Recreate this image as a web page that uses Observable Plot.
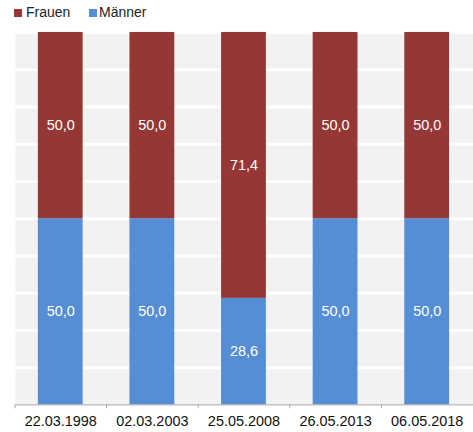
<!DOCTYPE html>
<html>
<head>
<meta charset="utf-8">
<script src="https://cdn.jsdelivr.net/npm/d3@7"></script>
<script src="https://cdn.jsdelivr.net/npm/@observablehq/plot@0.6"></script>
<style>
  html, body { margin: 0; padding: 0; background: #fff; overflow: hidden; }
  #wrap { width: 473px; height: 432px; overflow: hidden; position: relative; font-family: "Liberation Sans", Arial, sans-serif; }
  #legend { position: relative; height: 24px; font-size: 14px; color: #222; }
  .sw { position: absolute; top: 9px; width: 8px; height: 8px; }
  .lt { position: absolute; top: 4px; line-height: 16px; }
  svg { display: block; }
</style>
</head>
<body>
<div id="wrap">
  <div id="legend"></div>
  <div id="chart"></div>
</div>
<script>
const dates = ["22.03.1998", "02.03.2003", "25.05.2008", "26.05.2013", "06.05.2018"];
const frauen = [50.0, 50.0, 71.4, 50.0, 50.0];
const maenner = [50.0, 50.0, 28.6, 50.0, 50.0];
const series = ["Frauen", "Männer"];
const colors = ["#953735", "#558ed5"];

const data = [];
dates.forEach((d, i) => {
  data.push({date: d, sex: "Männer", value: maenner[i]});
  data.push({date: d, sex: "Frauen", value: frauen[i]});
});
const fmt = v => v.toFixed(1).replace(".", ",");

// legend
const legend = document.getElementById("legend");
const legendPos = [{sw: 14, tx: 26}, {sw: 89, tx: 99}];
series.forEach((s, i) => {
  const sw = document.createElement("span");
  sw.className = "sw";
  sw.style.left = legendPos[i].sw + "px";
  sw.style.background = colors[i];
  legend.appendChild(sw);
  const t = document.createElement("span");
  t.className = "lt";
  t.style.left = legendPos[i].tx + "px";
  t.textContent = s;
  legend.appendChild(t);
});

const order = ["Männer", "Frauen"];
const chart = Plot.plot({
  width: 475,
  height: 408,
  marginTop: 8,
  marginBottom: 26,
  marginLeft: 15,
  marginRight: 0,
  style: {fontFamily: "'Liberation Sans', Arial, sans-serif", fontSize: "14.5px", background: "transparent"},
  x: {domain: dates, paddingInner: 0.51, paddingOuter: 0.255, label: null},
  y: {domain: [0, 100], axis: null},
  color: {domain: series, range: colors},
  marks: [
    Plot.frame({fill: "#f2f2f2", stroke: null}),
    Plot.ruleY(d3.range(10, 101, 10), {stroke: "white", strokeWidth: 3}),
    Plot.barY(data, {x: "date", y: "value", fill: "sex", z: "sex", order}),
    Plot.text(data, Plot.stackY({x: "date", y: "value", z: "sex", order, text: d => fmt(d.value), fill: "white", fontSize: 14.5})),
    Plot.ruleY([0], {stroke: "#a6a6a6", strokeWidth: 1}),
    Plot.axisX({tickSize: 4, dx: -46, text: null, stroke: "#a6a6a6"}),
    Plot.axisX({tickSize: 0, tickPadding: 11, fill: "#111", fontSize: 14.5})
  ]
});
document.getElementById("chart").appendChild(chart);
</script>
</body>
</html>
